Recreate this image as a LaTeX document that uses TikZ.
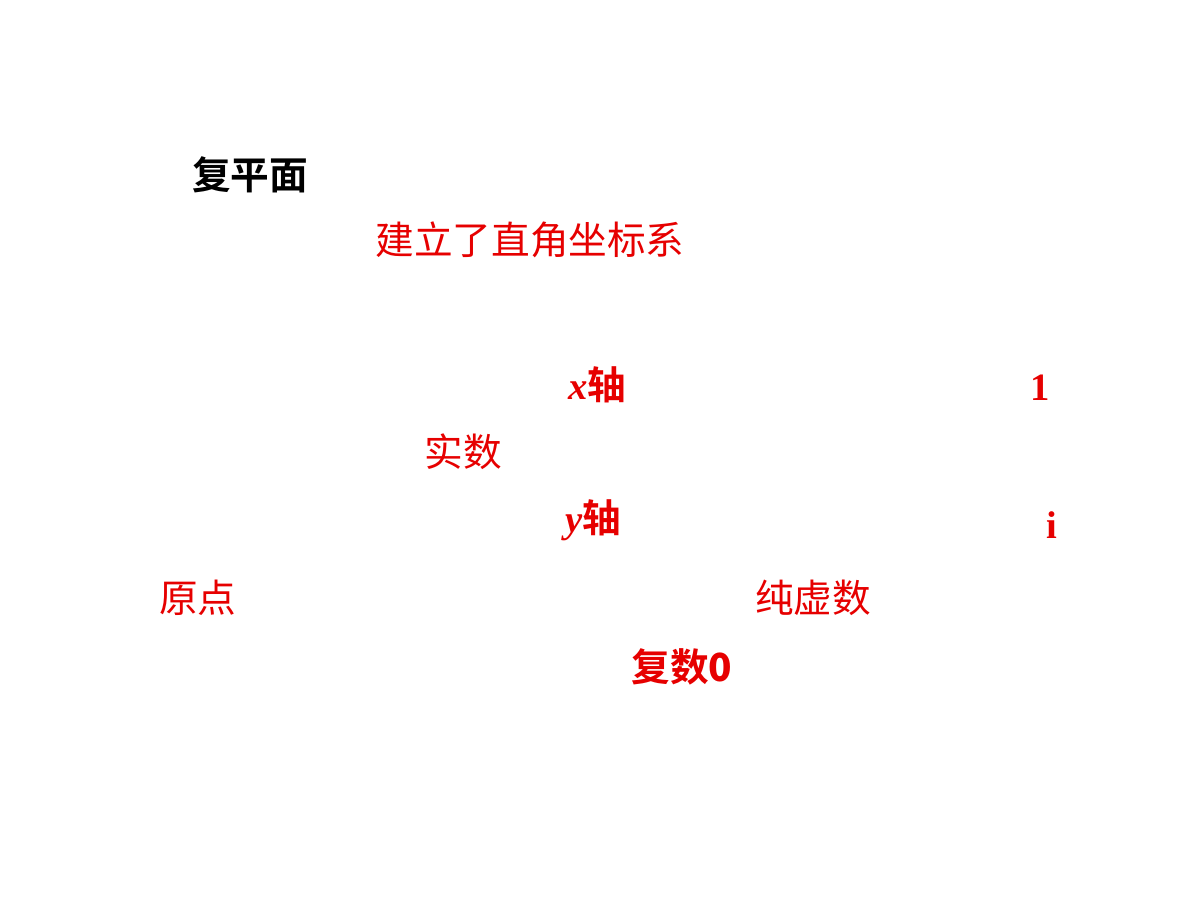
\documentclass[tikz,border=0pt]{standalone}
\usepackage{fontspec}
\setmainfont{Liberation Serif}
\newfontfamily\cjk{Noto Sans CJK SC}
\newfontfamily\cjkb{Noto Sans CJK SC}[UprightFont={* Bold}]
\definecolor{myred}{RGB}{230,0,0}
\tikzset{t/.style={inner sep=0pt,font=\fontsize{11}{13}\selectfont}}
\begin{document}
\begin{tikzpicture}
\useasboundingbox (0,0) rectangle (12,-9);
\node[t] (a) at (2.5,-1.75) {\cjkb 复平面};
\node[t,text=myred] (b) at (5.30,-2.40) {\cjk 建立了直角坐标系};
\node[t,text=myred] (c) at (5.97,-3.85) {\textbf{\textit{x}}\cjkb 轴};
\node[t,text=myred] (d) at (10.40,-3.88) {\textbf{1}};
\node[t,text=myred] (e) at (4.63,-4.52) {\cjk 实数};
\node[t,text=myred] (f) at (5.93,-5.20) {\textbf{\textit{y}}\cjkb 轴};
\node[t,text=myred] (g) at (10.52,-5.25) {\textbf{i}};
\node[t,text=myred] (h) at (1.98,-5.98) {\cjk 原点};
\node[t,text=myred] (k) at (8.13,-5.98) {\cjk 纯虚数};
\node[t,text=myred] (m) at (6.82,-6.67) {\cjkb 复数\textbf{0}};
\end{tikzpicture}
\end{document}
